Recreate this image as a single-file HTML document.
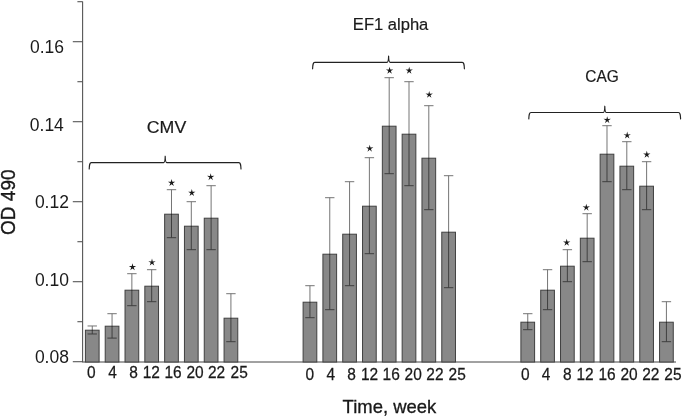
<!DOCTYPE html>
<html><head><meta charset="utf-8"><title>chart</title>
<style>
html,body{margin:0;padding:0;background:#fff;}
body{width:685px;height:417px;overflow:hidden;}
svg{display:block;opacity:0.999;will-change:transform;}
text{font-family:"Liberation Sans",sans-serif;fill:#1a1a1a;}
</style></head><body>
<svg width="685" height="417" viewBox="0 0 685 417">
<rect x="0" y="0" width="685" height="417" fill="#ffffff"/>
<g stroke="#555555" stroke-width="1.1" fill="none">
<path d="M82.6 1.4 V362.1"/>
<path d="M82.1 362.0 H676" stroke="#444444" stroke-width="1"/>
<path d="M72.8 361.7 H82.6"/>
<path d="M77.4 321.7 H82.6"/>
<path d="M72.8 281.7 H82.6"/>
<path d="M77.4 241.7 H82.6"/>
<path d="M72.8 201.7 H82.6"/>
<path d="M77.4 161.7 H82.6"/>
<path d="M72.8 121.7 H82.6"/>
<path d="M77.4 81.7 H82.6"/>
<path d="M72.8 41.7 H82.6"/>
<path d="M77.4 1.7 H82.6"/>
</g>
<g fill="#888888" stroke="#404040" stroke-width="1">
<rect x="85.40" y="330.20" width="13.70" height="31.80"/>
<rect x="105.21" y="326.20" width="13.70" height="35.80"/>
<rect x="125.02" y="290.20" width="13.70" height="71.80"/>
<rect x="144.83" y="286.20" width="13.70" height="75.80"/>
<rect x="164.64" y="214.20" width="13.70" height="147.80"/>
<rect x="184.45" y="226.20" width="13.70" height="135.80"/>
<rect x="204.26" y="218.20" width="13.70" height="143.80"/>
<rect x="224.07" y="318.20" width="13.70" height="43.80"/>
<rect x="303.10" y="302.20" width="13.70" height="59.80"/>
<rect x="322.91" y="254.20" width="13.70" height="107.80"/>
<rect x="342.72" y="234.20" width="13.70" height="127.80"/>
<rect x="362.53" y="206.20" width="13.70" height="155.80"/>
<rect x="382.34" y="126.20" width="13.70" height="235.80"/>
<rect x="402.15" y="134.20" width="13.70" height="227.80"/>
<rect x="421.96" y="158.20" width="13.70" height="203.80"/>
<rect x="441.77" y="232.20" width="13.70" height="129.80"/>
<rect x="520.90" y="322.20" width="13.70" height="39.80"/>
<rect x="540.71" y="290.20" width="13.70" height="71.80"/>
<rect x="560.52" y="266.20" width="13.70" height="95.80"/>
<rect x="580.33" y="238.20" width="13.70" height="123.80"/>
<rect x="600.14" y="154.20" width="13.70" height="207.80"/>
<rect x="619.95" y="166.20" width="13.70" height="195.80"/>
<rect x="639.76" y="186.20" width="13.70" height="175.80"/>
<rect x="659.57" y="322.20" width="13.70" height="39.80"/>
</g>
<g stroke="#6e6e6e" stroke-width="0.95" fill="none" style="mix-blend-mode:multiply">
<path d="M87.55 325.98 H96.95 M87.55 333.98 H96.95 M92.25 325.98 V333.98"/>
<path d="M107.36 313.70 H116.76 M107.36 338.10 H116.76 M112.06 313.70 V338.10"/>
<path d="M127.17 273.70 H136.57 M127.17 305.70 H136.57 M131.87 273.70 V305.70"/>
<path d="M146.98 269.70 H156.38 M146.98 301.70 H156.38 M151.68 269.70 V301.70"/>
<path d="M166.79 189.70 H176.19 M166.79 237.70 H176.19 M171.49 189.70 V237.70"/>
<path d="M186.60 201.70 H196.00 M186.60 249.70 H196.00 M191.30 201.70 V249.70"/>
<path d="M206.41 185.70 H215.81 M206.41 249.70 H215.81 M211.11 185.70 V249.70"/>
<path d="M226.22 293.70 H235.62 M226.22 341.70 H235.62 M230.92 293.70 V341.70"/>
<path d="M305.25 285.70 H314.65 M305.25 317.70 H314.65 M309.95 285.70 V317.70"/>
<path d="M325.06 197.70 H334.46 M325.06 309.70 H334.46 M329.76 197.70 V309.70"/>
<path d="M344.87 181.70 H354.27 M344.87 285.70 H354.27 M349.57 181.70 V285.70"/>
<path d="M364.68 157.70 H374.08 M364.68 253.70 H374.08 M369.38 157.70 V253.70"/>
<path d="M384.49 77.70 H393.89 M384.49 173.70 H393.89 M389.19 77.70 V173.70"/>
<path d="M404.30 81.70 H413.70 M404.30 185.70 H413.70 M409.00 81.70 V185.70"/>
<path d="M424.11 105.70 H433.51 M424.11 209.70 H433.51 M428.81 105.70 V209.70"/>
<path d="M443.92 175.70 H453.32 M443.92 287.70 H453.32 M448.62 175.70 V287.70"/>
<path d="M523.05 313.70 H532.45 M523.05 329.70 H532.45 M527.75 313.70 V329.70"/>
<path d="M542.86 269.70 H552.26 M542.86 309.70 H552.26 M547.56 269.70 V309.70"/>
<path d="M562.67 249.70 H572.07 M562.67 281.70 H572.07 M567.37 249.70 V281.70"/>
<path d="M582.48 213.70 H591.88 M582.48 261.70 H591.88 M587.18 213.70 V261.70"/>
<path d="M602.29 125.70 H611.69 M602.29 181.70 H611.69 M606.99 125.70 V181.70"/>
<path d="M622.10 141.70 H631.50 M622.10 189.70 H631.50 M626.80 141.70 V189.70"/>
<path d="M641.91 161.70 H651.31 M641.91 209.70 H651.31 M646.61 161.70 V209.70"/>
<path d="M661.72 301.70 H671.12 M661.72 341.70 H671.12 M666.42 301.70 V341.70"/>
</g>
<g fill="#1a1a1a">
<polygon points="132.50,263.30 133.26,266.10 136.16,265.96 133.74,267.55 134.76,270.26 132.50,268.45 130.24,270.26 131.26,267.55 128.84,265.96 131.74,266.10"/>
<polygon points="152.00,258.60 152.76,261.40 155.66,261.26 153.24,262.85 154.26,265.56 152.00,263.75 149.74,265.56 150.76,262.85 148.34,261.26 151.24,261.40"/>
<polygon points="171.60,179.00 172.36,181.80 175.26,181.66 172.84,183.25 173.86,185.96 171.60,184.15 169.34,185.96 170.36,183.25 167.94,181.66 170.84,181.80"/>
<polygon points="191.80,189.00 192.56,191.80 195.46,191.66 193.04,193.25 194.06,195.96 191.80,194.15 189.54,195.96 190.56,193.25 188.14,191.66 191.04,191.80"/>
<polygon points="210.70,173.20 211.46,176.00 214.36,175.86 211.94,177.45 212.96,180.16 210.70,178.35 208.44,180.16 209.46,177.45 207.04,175.86 209.94,176.00"/>
<polygon points="369.70,144.70 370.46,147.50 373.36,147.36 370.94,148.95 371.96,151.66 369.70,149.85 367.44,151.66 368.46,148.95 366.04,147.36 368.94,147.50"/>
<polygon points="389.60,66.80 390.36,69.60 393.26,69.46 390.84,71.05 391.86,73.76 389.60,71.95 387.34,73.76 388.36,71.05 385.94,69.46 388.84,69.60"/>
<polygon points="409.20,66.80 409.96,69.60 412.86,69.46 410.44,71.05 411.46,73.76 409.20,71.95 406.94,73.76 407.96,71.05 405.54,69.46 408.44,69.60"/>
<polygon points="429.20,90.90 429.96,93.70 432.86,93.56 430.44,95.15 431.46,97.86 429.20,96.05 426.94,97.86 427.96,95.15 425.54,93.56 428.44,93.70"/>
<polygon points="566.70,238.80 567.46,241.60 570.36,241.46 567.94,243.05 568.96,245.76 566.70,243.95 564.44,245.76 565.46,243.05 563.04,241.46 565.94,241.60"/>
<polygon points="586.30,203.70 587.06,206.50 589.96,206.36 587.54,207.95 588.56,210.66 586.30,208.85 584.04,210.66 585.06,207.95 582.64,206.36 585.54,206.50"/>
<polygon points="607.20,116.20 607.96,119.00 610.86,118.86 608.44,120.45 609.46,123.16 607.20,121.35 604.94,123.16 605.96,120.45 603.54,118.86 606.44,119.00"/>
<polygon points="627.20,131.60 627.96,134.40 630.86,134.26 628.44,135.85 629.46,138.56 627.20,136.75 624.94,138.56 625.96,135.85 623.54,134.26 626.44,134.40"/>
<polygon points="646.80,150.80 647.56,153.60 650.46,153.46 648.04,155.05 649.06,157.76 646.80,155.95 644.54,157.76 645.56,155.05 643.14,153.46 646.04,153.60"/>
</g>
<g stroke="#222222" stroke-width="1.15" fill="none" stroke-linecap="round" stroke-linejoin="round">
<path d="M89.2 169.0 C89.4 164.6 89.6 162.6 91.4 162.6 H163.6 C164.8 162.6 165.1 160.6 165.2 156.2 C165.3 160.6 165.6 162.6 166.8 162.6 H238.8 C240.6 162.6 240.8 164.6 241.0 169.0"/>
<path d="M312.6 68.8 C312.8 64.4 313.0 62.4 314.8 62.4 H387.0 C388.2 62.4 388.5 60.4 388.6 56.1 C388.7 60.4 389.0 62.4 390.2 62.4 H462.2 C464.0 62.4 464.2 64.4 464.4 68.8"/>
<path d="M528.8 118.9 C529.0 114.5 529.2 112.5 531.0 112.5 H603.2 C604.4 112.5 604.7 110.5 604.8 106.2 C604.9 110.5 605.2 112.5 606.4 112.5 H678.4 C680.2 112.5 680.4 114.5 680.6 118.9"/>
</g>
<text transform="translate(166.5,133.1) scale(1.045,1)" font-size="17" text-anchor="middle" stroke="#1a1a1a" stroke-width="0.2">CMV</text>
<text transform="translate(390.6,29.5) scale(0.975,1)" font-size="17" text-anchor="middle" stroke="#1a1a1a" stroke-width="0.2">EF1 alpha</text>
<text transform="translate(602.1,81.9) scale(0.910,1)" font-size="17" text-anchor="middle" stroke="#1a1a1a" stroke-width="0.2">CAG</text>
<text x="30.0" y="52.5" font-size="17.5" fill="#222">0.16</text>
<text x="29.8" y="130.6" font-size="17.5" fill="#222">0.14</text>
<text x="34.9" y="208.0" font-size="17.5" fill="#222">0.12</text>
<text x="34.9" y="286.0" font-size="17.5" fill="#222">0.10</text>
<text x="34.9" y="363.0" font-size="17.5" fill="#222">0.08</text>
<text transform="translate(91.3,378.0) scale(0.95,1)" font-size="16.3" text-anchor="middle" stroke="#1a1a1a" stroke-width="0.25">0</text>
<text transform="translate(112.6,378.0) scale(0.95,1)" font-size="16.3" text-anchor="middle" stroke="#1a1a1a" stroke-width="0.25">4</text>
<text transform="translate(133.6,378.0) scale(0.95,1)" font-size="16.3" text-anchor="middle" stroke="#1a1a1a" stroke-width="0.25">8</text>
<text transform="translate(151.3,378.0) scale(0.95,1)" font-size="16.3" text-anchor="middle" stroke="#1a1a1a" stroke-width="0.25">12</text>
<text transform="translate(173.0,378.0) scale(0.95,1)" font-size="16.3" text-anchor="middle" stroke="#1a1a1a" stroke-width="0.25">16</text>
<text transform="translate(195.1,378.0) scale(0.95,1)" font-size="16.3" text-anchor="middle" stroke="#1a1a1a" stroke-width="0.25">20</text>
<text transform="translate(216.6,378.0) scale(0.95,1)" font-size="16.3" text-anchor="middle" stroke="#1a1a1a" stroke-width="0.25">22</text>
<text transform="translate(239.2,378.0) scale(0.95,1)" font-size="16.3" text-anchor="middle" stroke="#1a1a1a" stroke-width="0.25">25</text>
<text transform="translate(309.7,379.6) scale(0.95,1)" font-size="16.3" text-anchor="middle" stroke="#1a1a1a" stroke-width="0.25">0</text>
<text transform="translate(330.7,379.6) scale(0.95,1)" font-size="16.3" text-anchor="middle" stroke="#1a1a1a" stroke-width="0.25">4</text>
<text transform="translate(351.5,379.6) scale(0.95,1)" font-size="16.3" text-anchor="middle" stroke="#1a1a1a" stroke-width="0.25">8</text>
<text transform="translate(369.5,379.6) scale(0.95,1)" font-size="16.3" text-anchor="middle" stroke="#1a1a1a" stroke-width="0.25">12</text>
<text transform="translate(391.2,379.6) scale(0.95,1)" font-size="16.3" text-anchor="middle" stroke="#1a1a1a" stroke-width="0.25">16</text>
<text transform="translate(413.2,379.6) scale(0.95,1)" font-size="16.3" text-anchor="middle" stroke="#1a1a1a" stroke-width="0.25">20</text>
<text transform="translate(434.9,379.6) scale(0.95,1)" font-size="16.3" text-anchor="middle" stroke="#1a1a1a" stroke-width="0.25">22</text>
<text transform="translate(457.2,379.6) scale(0.95,1)" font-size="16.3" text-anchor="middle" stroke="#1a1a1a" stroke-width="0.25">25</text>
<text transform="translate(525.4,379.8) scale(0.95,1)" font-size="16.3" text-anchor="middle" stroke="#1a1a1a" stroke-width="0.25">0</text>
<text transform="translate(546.0,379.8) scale(0.95,1)" font-size="16.3" text-anchor="middle" stroke="#1a1a1a" stroke-width="0.25">4</text>
<text transform="translate(567.3,379.8) scale(0.95,1)" font-size="16.3" text-anchor="middle" stroke="#1a1a1a" stroke-width="0.25">8</text>
<text transform="translate(585.1,379.8) scale(0.95,1)" font-size="16.3" text-anchor="middle" stroke="#1a1a1a" stroke-width="0.25">12</text>
<text transform="translate(607.1,379.8) scale(0.95,1)" font-size="16.3" text-anchor="middle" stroke="#1a1a1a" stroke-width="0.25">16</text>
<text transform="translate(629.0,379.8) scale(0.95,1)" font-size="16.3" text-anchor="middle" stroke="#1a1a1a" stroke-width="0.25">20</text>
<text transform="translate(650.8,379.8) scale(0.95,1)" font-size="16.3" text-anchor="middle" stroke="#1a1a1a" stroke-width="0.25">22</text>
<text transform="translate(672.9,379.8) scale(0.95,1)" font-size="16.3" text-anchor="middle" stroke="#1a1a1a" stroke-width="0.25">25</text>
<text x="342.6" y="412.8" font-size="18.45" fill="#111" stroke="#111" stroke-width="0.3">Time, week</text>
<text transform="translate(14.6,234.9) rotate(-90) scale(1,1.09)" font-size="19" fill="#111" stroke="#111" stroke-width="0.35">OD 490</text>
</svg>
</body></html>
